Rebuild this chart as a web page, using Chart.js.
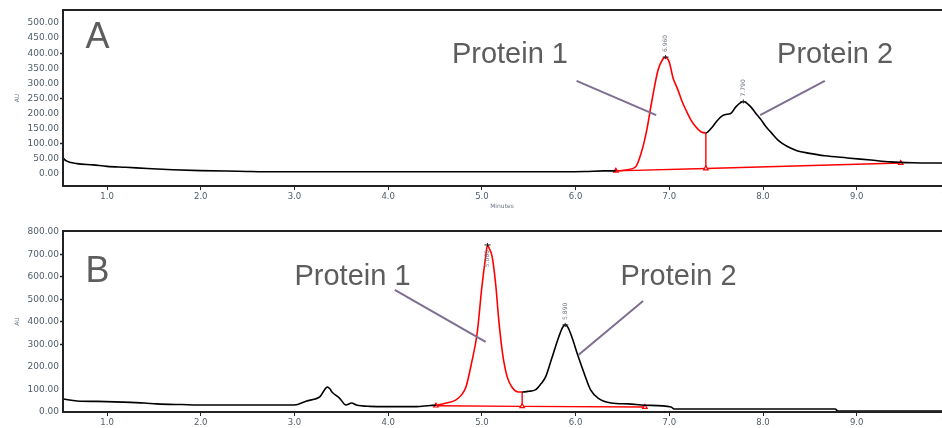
<!DOCTYPE html>
<html>
<head>
<meta charset="utf-8">
<script src="https://cdn.jsdelivr.net/npm/chart.js@4.4.0/dist/chart.umd.min.js"></script>
<style>
  html, body { margin: 0; padding: 0; background: #fff; width: 942px; height: 428px; overflow: hidden; }
  canvas { position: absolute; left: 0; }
  #panelA { top: 0; }
  #panelB { top: 220px; }
</style>
</head>
<body>
<canvas id="panelA" width="980" height="220"></canvas>
<canvas id="panelB" width="980" height="208"></canvas>
<script>
// ---- Run A: retention time (min) and detector response (AU) ----
const timeA = [0.53, 0.56, 0.68, 0.85, 1.00, 1.20, 1.43, 1.70, 2.00, 2.40, 2.80, 3.50, 4.50, 5.50, 6.10, 6.30,
  6.43, 6.55, 6.64, 6.70, 6.76, 6.81, 6.88, 6.93, 6.96, 7.00, 7.04, 7.09, 7.13, 7.18, 7.23, 7.28, 7.34, 7.39,
  7.45, 7.50, 7.55, 7.60, 7.65, 7.71, 7.75, 7.79, 7.83, 7.87, 7.92, 7.98, 8.03, 8.09, 8.16, 8.23, 8.30, 8.37,
  8.48, 8.66, 8.90, 9.15, 9.36, 9.60, 9.86, 10.26];
const signalA = [53, 44, 34, 30, 25, 22, 18, 14, 11, 9, 7, 7, 7, 7, 8, 10,
  10, 14, 23, 69, 146, 235, 344, 380, 387, 370, 318, 280, 245, 210, 179, 157, 139, 136,
  152, 172, 189, 197, 199, 222, 234, 240, 234, 222, 202, 179, 157, 136, 112, 96, 85, 76,
  69, 60, 53, 46, 40, 37, 36, 35];
const peakWindowA = [6.43, 7.39];          // integrated first peak
const baseTimeA = [6.43, 7.39, 9.47];      // drawn integration baseline
const baseValA = [10, 18, 36];

// ---- Run B ----
const timeB = [0.53, 0.68, 0.90, 1.17, 1.40, 1.53, 1.80, 2.06, 2.50, 3.00, 3.13, 3.22, 3.27, 3.32, 3.35, 3.38,
  3.40, 3.48, 3.55, 3.61, 3.66, 3.80, 4.00, 4.30, 4.45, 4.51, 4.62, 4.72, 4.78, 4.83, 4.89, 4.95, 5.00, 5.04,
  5.06, 5.08, 5.11, 5.15, 5.18, 5.22, 5.27, 5.32, 5.39, 5.43, 5.50, 5.57, 5.63, 5.68, 5.74, 5.82, 5.86, 5.89,
  5.92, 5.96, 6.03, 6.09, 6.16, 6.24, 6.38, 6.56, 6.74, 7.02, 7.05, 8.77, 8.80, 10.26];
const signalB = [58, 49, 47, 44, 40, 36, 33, 31, 31, 31, 49, 58, 67, 98, 111, 102,
  89, 62, 31, 40, 31, 25, 24, 24, 29, 30, 40, 53, 75, 111, 218, 351, 556, 689,
  742, 725, 689, 556, 409, 262, 156, 111, 89, 89, 92, 98, 125, 156, 231, 333, 375, 387,
  375, 333, 244, 173, 98, 62, 40, 36, 30, 22, 13, 13, 4, 4];
const peakWindowB = [4.51, 5.43];
const baseTimeB = [4.51, 5.43, 6.74];
const baseValB = [28, 25, 22];

// ---- Axis ticks ----
const xTickValues = [1, 2, 3, 4, 5, 6, 7, 8, 9, 10];
const yTicksA = [0, 50, 100, 150, 200, 250, 300, 350, 400, 450, 500];
const yMarkedA = [100, 250, 400];
const yTicksB = [0, 100, 200, 300, 400, 500, 600, 700, 800];
const yMarkedB = [300, 400, 500, 600, 700];

// ---- Panel captions ----
const panelLetters = ['A', 'B'];
const peakNames = ['Protein 1', 'Protein 2'];

const INK = '#222';
const TICK_TEXT = '#4f5c68';
const CALLOUT = '#7d6e92';
const CAPTION = '#5d5d5d';

function toXY(t, v) { return t.map((x, i) => ({ x, y: v[i] })); }

function findApex(t, v, lo, hi) {
  let best = -1;
  for (let i = 0; i < t.length; i++) {
    if (t[i] >= lo && t[i] <= hi && (best < 0 || v[i] > v[best])) best = i;
  }
  return { x: t[best], y: v[best] };
}

function valueAt(t, v, x) {
  const i = t.indexOf(x);
  return v[i];
}

// Captions, callout leaders and peak tags, placed in data units
const overlayPlugin = {
  id: 'overlay',
  afterDatasetsDraw(chart, args, opts) {
    const { ctx, chartArea: a } = chart;
    const xs = chart.scales.x, ys = chart.scales.y;
    const px = v => xs.getPixelForValue(v), py = v => ys.getPixelForValue(v);
    ctx.save();

    // callout leaders
    ctx.strokeStyle = CALLOUT;
    ctx.lineWidth = 2;
    opts.leaders.forEach(l => {
      ctx.beginPath();
      ctx.moveTo(px(l[0]), py(l[1]));
      ctx.lineTo(px(l[2]), py(l[3]));
      ctx.stroke();
    });

    // peak tags (retention time) and apex marks
    opts.apexes.forEach(p => {
      const x = px(p.x), y = py(p.y);
      ctx.strokeStyle = INK;
      ctx.lineWidth = 1;
      ctx.beginPath();
      ctx.moveTo(x - 3, y); ctx.lineTo(x + 3, y);
      ctx.moveTo(x, y - 2); ctx.lineTo(x, y + 2);
      ctx.stroke();
      const label = p.x.toFixed(3);
      ctx.font = '6px "DejaVu Sans"';
      const w = ctx.measureText(label).width;
      ctx.save();
      let start = y - 5;
      let align = 'left';
      if (start - w < a.top + 2) { start = y + 5; align = 'right'; }
      ctx.translate(x, start);
      ctx.rotate(-Math.PI / 2);
      ctx.fillStyle = '#6b7480';
      ctx.textAlign = align;
      ctx.textBaseline = 'middle';
      ctx.fillText(label, 0, 0);
      ctx.restore();
    });

    // panel letter
    ctx.fillStyle = CAPTION;
    ctx.textBaseline = 'alphabetic';
    ctx.textAlign = 'left';
    ctx.font = '36px "Liberation Sans"';
    ctx.fillText(opts.letter, px(opts.letterAt[0]), py(opts.letterAt[1]));

    // protein captions
    ctx.font = '29px "Liberation Sans"';
    opts.captions.forEach(c => ctx.fillText(c.text, px(c.at[0]), py(c.at[1])));
    ctx.restore();
  },
  afterDraw(chart, args, opts) {
    const { ctx, chartArea: a } = chart;
    ctx.save();
    ctx.strokeStyle = INK;
    ctx.lineWidth = 2;
    ctx.strokeRect(a.left, a.top, a.right - a.left + 10, a.bottom - a.top);

    // axis titles
    ctx.fillStyle = '#6b7480';
    ctx.font = '6px "DejaVu Sans"';
    ctx.textAlign = 'center';
    ctx.textBaseline = 'middle';
    ctx.save();
    ctx.translate(17, (a.top + a.bottom) / 2);
    ctx.rotate(-Math.PI / 2);
    ctx.fillText('AU', 0, 0);
    ctx.restore();
    if (opts.xTitle) ctx.fillText(opts.xTitle, 502, a.bottom + 20);
    ctx.restore();
  }
};

function makePanel(id, cfg) {
  const trace = toXY(cfg.time, cfg.signal);
  const win = cfg.window;
  const dropTop = valueAt(cfg.time, cfg.signal, win[1]);
  const dropBase = valueAt(cfg.baseT, cfg.baseV, win[1]);
  const apexes = [
    findApex(cfg.time, cfg.signal, win[0], win[1]),
    findApex(cfg.time, cfg.signal, win[1] + 0.01, cfg.secondPeakEnd)
  ];
  return new Chart(document.getElementById(id), {
    type: 'line',
    data: {
      datasets: [
        {
          data: trace,
          borderColor: '#000',
          borderWidth: 1.6,
          pointRadius: 0,
          cubicInterpolationMode: 'monotone',
          segment: {
            borderColor: c => (c.p0.parsed.x >= win[0] - 1e-6 && c.p1.parsed.x <= win[1] + 1e-6) ? '#ff0000' : '#000'
          },
          order: 1
        },
        {
          data: toXY(cfg.baseT, cfg.baseV),
          borderColor: '#ff0000',
          borderWidth: 1.4,
          pointStyle: 'triangle',
          pointRadius: 2.6,
          pointBackgroundColor: '#fff',
          pointBorderColor: '#ff0000',
          pointBorderWidth: 1.2,
          order: 2
        },
        {
          data: [{ x: win[1], y: dropBase }, { x: win[1], y: dropTop }],
          borderColor: '#ff0000',
          borderWidth: 1.4,
          pointRadius: 0,
          order: 2
        }
      ]
    },
    options: {
      responsive: false,
      animation: false,
      devicePixelRatio: 1,
      layout: { padding: { top: cfg.padTop, left: 0, right: 2, bottom: 0 } },
      plugins: {
        legend: { display: false },
        tooltip: { enabled: false },
        overlay: {
          leaders: cfg.leaders,
          apexes,
          letter: cfg.letter,
          letterAt: cfg.letterAt,
          captions: cfg.captions,
          xTitle: cfg.xTitle
        }
      },
      scales: {
        x: {
          type: 'linear',
          min: 0.53,
          max: 10.26,
          afterBuildTicks: s => { s.ticks = xTickValues.map(v => ({ value: v })); },
          afterFit: s => { s.height = cfg.xAxisHeight; },
          border: { display: false },
          grid: { drawOnChartArea: false, drawTicks: true, tickLength: 4, tickColor: INK, tickWidth: 1 },
          ticks: {
            padding: 2,
            maxRotation: 0,
            autoSkip: false,
            color: TICK_TEXT,
            font: { family: 'DejaVu Sans', size: 8.5 },
            callback: v => Number(v).toFixed(1)
          }
        },
        y: {
          type: 'linear',
          min: cfg.yMin,
          max: cfg.yMax,
          afterBuildTicks: s => { s.ticks = cfg.yTicks.map(v => ({ value: v })); },
          afterFit: s => { s.width = 63; },
          border: { display: false },
          grid: {
            drawOnChartArea: false,
            drawTicks: true,
            tickLength: 3,
            tickWidth: 1.5,
            tickColor: c => cfg.yMarked.includes(c.tick && c.tick.value) ? INK : 'rgba(0,0,0,0)'
          },
          ticks: {
            padding: 1,
            autoSkip: false,
            color: TICK_TEXT,
            font: { family: 'DejaVu Sans', size: 9 },
            callback: v => Number(v).toFixed(2)
          }
        }
      }
    },
    plugins: [overlayPlugin]
  });
}

makePanel('panelA', {
  time: timeA, signal: signalA, window: peakWindowA, baseT: baseTimeA, baseV: baseValA,
  secondPeakEnd: 8.5,
  yMin: -40, yMax: 543, yTicks: yTicksA, yMarked: yMarkedA,
  padTop: 10, xAxisHeight: 34,
  letter: panelLetters[0], letterAt: [0.77, 417],
  captions: [
    { text: peakNames[0], at: [4.68, 368] },
    { text: peakNames[1], at: [8.15, 368] }
  ],
  leaders: [[6.01, 308, 6.86, 195], [7.97, 195, 8.66, 308]],
  xTitle: 'Minutes'
});

makePanel('panelB', {
  time: timeB, signal: signalB, window: peakWindowB, baseT: baseTimeB, baseV: baseValB,
  secondPeakEnd: 6.5,
  yMin: 0, yMax: 804, yTicks: yTicksB, yMarked: yMarkedB,
  padTop: 11, xAxisHeight: 16,
  letter: panelLetters[1], letterAt: [0.77, 578],
  captions: [
    { text: peakNames[0], at: [3.00, 564] },
    { text: peakNames[1], at: [6.48, 564] }
  ],
  leaders: [[4.07, 542, 5.04, 311], [6.03, 253, 6.72, 493]],
  xTitle: null
});
</script>
</body>
</html>
